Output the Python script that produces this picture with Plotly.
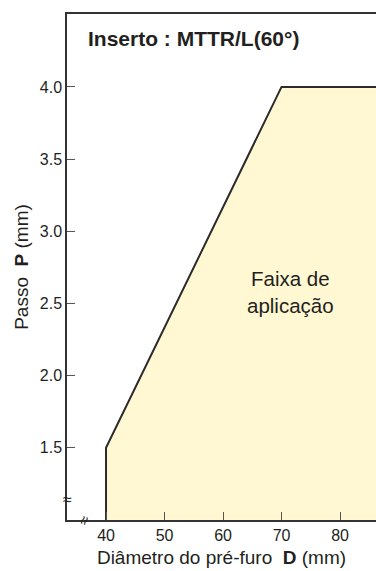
import plotly.graph_objects as go

# Application range boundary: pre-hole diameter D (mm) vs. pitch P (mm)
boundary_d = [40, 40, 70, 90]
boundary_p = [1.0, 1.5, 4.0, 4.0]

x_ticks = [40, 50, 60, 70, 80]
y_ticks = [1.5, 2.0, 2.5, 3.0, 3.5, 4.0]
y_tick_labels = ["1.5", "2.0", "2.5", "3.0", "3.5", "4.0"]

x_range = [33.33, 86.15]
y_range = [1.0, 4.505]

FONT = "Liberation Sans, Arial, sans-serif"
INK = "#231f20"
FILL = "#fff8d2"

fig = go.Figure()

# Filled application region (closed along the bottom edge)
fig.add_trace(go.Scatter(
    x=boundary_d + [boundary_d[-1]],
    y=boundary_p + [boundary_p[0]],
    mode="lines",
    fill="toself",
    fillcolor=FILL,
    line=dict(width=0, color=FILL),
    hoverinfo="skip",
    showlegend=False,
))

# Boundary outline
fig.add_trace(go.Scatter(
    x=boundary_d,
    y=boundary_p,
    mode="lines",
    line=dict(color="#2b2b2b", width=2),
    hoverinfo="skip",
    showlegend=False,
))

fig.update_layout(
    width=376,
    height=571,
    margin=dict(l=67, r=0, t=14, b=51),
    paper_bgcolor="white",
    plot_bgcolor="white",
    font=dict(family=FONT, color=INK, size=16),
    xaxis=dict(
        range=x_range,
        tickvals=x_ticks,
        ticks="inside",
        ticklen=8,
        tickwidth=1,
        tickcolor="#555",
        showline=True,
        linecolor="#333",
        linewidth=1.5,
        mirror=True,
        showgrid=False,
        zeroline=False,
        automargin=False,
        tickfont=dict(size=16, color=INK),
        title=dict(
            text="Diâmetro do pré-furo  <b>D</b> (mm)",
            font=dict(size=19, color=INK),
            standoff=8,
        ),
    ),
    yaxis=dict(
        range=y_range,
        tickvals=y_ticks,
        ticktext=y_tick_labels,
        ticks="inside",
        ticklen=8,
        tickwidth=1,
        tickcolor="#555",
        showline=True,
        linecolor="#333",
        linewidth=1.5,
        showgrid=False,
        zeroline=False,
        automargin=False,
        tickfont=dict(size=16, color=INK),
        title=dict(
            text="Passo  <b>P</b> (mm)",
            font=dict(size=19, color=INK),
            standoff=6,
        ),
    ),
    annotations=[
        dict(
            text="<b>Inserto : MTTR/L(60°)</b>",
            x=0.063, y=0.978, xref="paper", yref="paper",
            xanchor="left", yanchor="top",
            showarrow=False,
            font=dict(size=21, color=INK),
        ),
        dict(
            text="Faixa de<br>aplicação",
            x=71.6, y=2.58, xref="x", yref="y",
            showarrow=False,
            font=dict(size=20.5, color=INK),
        ),
        # axis break marks
        dict(
            text="≈", x=0, y=1.14, xref="paper", yref="y",
            xanchor="center", yanchor="middle",
            showarrow=False, font=dict(size=16, color=INK),
        ),
        dict(
            text="≈", x=36.2, y=0, xref="x", yref="paper",
            xanchor="center", yanchor="middle",
            showarrow=False, textangle=-70,
            font=dict(size=16, color=INK),
        ),
    ],
)

fig.write_html("out.html")
